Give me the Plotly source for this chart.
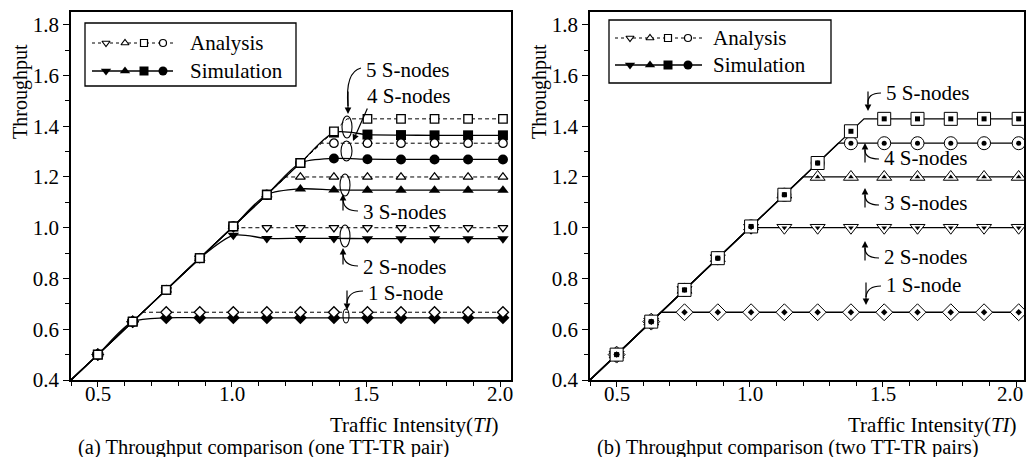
import plotly.graph_objects as go

# ---------------- data ----------------
TI = [0.50, 0.63, 0.755, 0.88, 1.005, 1.13, 1.255, 1.38, 1.505, 1.63, 1.755, 1.88, 2.01]
TI_START = 0.4
NODES = ["1 S-node", "2 S-nodes", "3 S-nodes", "4 S-nodes", "5 S-nodes"]
KNEE = [0.667, 1.0, 1.2, 1.333, 1.429]          # analytic saturation throughput

ANA_1 = [0.50, 0.63, 0.667, 0.667, 0.667, 0.667, 0.667, 0.667, 0.667, 0.667, 0.667, 0.667, 0.667]
ANA_2 = [0.50, 0.63, 0.755, 0.88, 1.0, 1.0, 1.0, 1.0, 1.0, 1.0, 1.0, 1.0, 1.0]
ANA_3 = [0.50, 0.63, 0.755, 0.88, 1.005, 1.13, 1.2, 1.2, 1.2, 1.2, 1.2, 1.2, 1.2]
ANA_4 = [0.50, 0.63, 0.755, 0.88, 1.005, 1.13, 1.255, 1.333, 1.333, 1.333, 1.333, 1.333, 1.333]
ANA_5 = [0.50, 0.63, 0.755, 0.88, 1.005, 1.13, 1.255, 1.38, 1.429, 1.429, 1.429, 1.429, 1.429]

# (a) one TT-TR pair, simulation
SIM_A1 = [0.50, 0.63, 0.645, 0.645, 0.645, 0.645, 0.645, 0.645, 0.645, 0.645, 0.645, 0.645, 0.645]
SIM_A2 = [0.50, 0.63, 0.755, 0.88, 0.97, 0.958, 0.958, 0.958, 0.957, 0.957, 0.957, 0.957, 0.957]
SIM_A3 = [0.50, 0.63, 0.755, 0.88, 1.005, 1.13, 1.153, 1.149, 1.148, 1.148, 1.148, 1.148, 1.148]
SIM_A4 = [0.50, 0.63, 0.755, 0.88, 1.005, 1.13, 1.255, 1.273, 1.27, 1.269, 1.269, 1.269, 1.269]
SIM_A5 = [0.50, 0.63, 0.755, 0.88, 1.005, 1.13, 1.255, 1.375, 1.367, 1.365, 1.364, 1.364, 1.364]

# (b) two TT-TR pairs, simulation
SIM_B1 = [0.50, 0.63, 0.667, 0.667, 0.667, 0.667, 0.667, 0.667, 0.667, 0.667, 0.667, 0.667, 0.667]
SIM_B2 = [0.50, 0.63, 0.755, 0.88, 1.0, 1.0, 1.0, 1.0, 1.0, 1.0, 1.0, 1.0, 1.0]
SIM_B3 = [0.50, 0.63, 0.755, 0.88, 1.005, 1.13, 1.2, 1.2, 1.2, 1.2, 1.2, 1.2, 1.2]
SIM_B4 = [0.50, 0.63, 0.755, 0.88, 1.005, 1.13, 1.255, 1.333, 1.333, 1.333, 1.333, 1.333, 1.333]
SIM_B5 = [0.50, 0.63, 0.755, 0.88, 1.005, 1.13, 1.255, 1.38, 1.429, 1.429, 1.429, 1.429, 1.429]

ANA = [ANA_1, ANA_2, ANA_3, ANA_4, ANA_5]
SIM_A = [SIM_A1, SIM_A2, SIM_A3, SIM_A4, SIM_A5]
SIM_B = [SIM_B1, SIM_B2, SIM_B3, SIM_B4, SIM_B5]
SYMBOLS = ["diamond", "triangle-down", "triangle-up", "circle", "square"]

X_TICKS = [0.5, 1.0, 1.5, 2.0]
Y_TICKS = [0.4, 0.6, 0.8, 1.0, 1.2, 1.4, 1.6, 1.8]

# ---------------- styling ----------------
FONT = "Liberation Serif, Times New Roman, serif"
FS = 21
OFF = 8                      # page body margin of the html page
W, H = 1018, 449             # stays inside the visible page area
BLACK = "black"


def dx(px):      # window pixel -> paper fraction (x)
    return (px - OFF) / W


def dy(py):      # window pixel -> paper fraction (y)
    return 1 - (py - OFF) / H


fig = go.Figure()


def ana_path(vals, knee):
    xs = [TI_START] + [t for t in TI if t < knee] + [knee] + [t for t in TI if t > knee]
    ys = [TI_START] + [v for t, v in zip(TI, vals) if t < knee] + [knee] + [v for t, v in zip(TI, vals) if t > knee]
    return xs, ys


# ---- panel (a)
for i in range(5):
    fig.add_trace(go.Scatter(x=[TI_START] + TI, y=[TI_START] + SIM_A[i], mode="lines",
                             line=dict(color=BLACK, width=1.3, shape="spline", smoothing=0.8),
                             xaxis="x", yaxis="y", hoverinfo="skip"))
for i in range(5):
    xs, ys = ana_path(ANA[i], KNEE[i])
    fig.add_trace(go.Scatter(x=xs, y=ys, mode="lines",
                             line=dict(color=BLACK, width=1, dash="4px,3px"),
                             xaxis="x", yaxis="y", hoverinfo="skip"))
for i in range(5):
    fig.add_trace(go.Scatter(x=TI, y=SIM_A[i], mode="markers", name="Simulation " + NODES[i],
                             marker=dict(symbol=SYMBOLS[i], size=10, color=BLACK, line=dict(width=0)),
                             cliponaxis=False, xaxis="x", yaxis="y"))
for i in range(5):
    fig.add_trace(go.Scatter(x=TI, y=ANA[i], mode="markers", name="Analysis " + NODES[i],
                             marker=dict(symbol=SYMBOLS[i], size=8.5, color="white",
                                         line=dict(width=1.3, color=BLACK)),
                             cliponaxis=False, xaxis="x", yaxis="y"))

# ---- panel (b)
for i in range(5):
    xs, ys = ana_path(ANA[i], KNEE[i])
    fig.add_trace(go.Scatter(x=xs, y=ys, mode="lines", line=dict(color=BLACK, width=1.3),
                             xaxis="x2", yaxis="y2", hoverinfo="skip"))
for i in range(5):
    fig.add_trace(go.Scatter(x=TI, y=ANA[i], mode="markers", name="Analysis " + NODES[i],
                             marker=dict(symbol=SYMBOLS[i], size=13, color="white",
                                         line=dict(width=1, color=BLACK)),
                             cliponaxis=False, xaxis="x2", yaxis="y2"))
for i in range(5):
    fig.add_trace(go.Scatter(x=TI, y=SIM_B[i], mode="markers", name="Simulation " + NODES[i],
                             marker=dict(symbol=SYMBOLS[i], size=5, color=BLACK, line=dict(width=0)),
                             cliponaxis=False, xaxis="x2", yaxis="y2"))

# ---------------- pixel overlay (window pixels) for legend / callouts ----------------
shapes = []
annotations = []
LEG_SYMS = ["triangle-down", "triangle-up", "square", "circle"]


def text(x, y, s, xanchor="left", angle=0, size=FS):
    annotations.append(dict(xref="x3", yref="y3", x=x, y=y, text=s, showarrow=False, textangle=angle,
                            xanchor=xanchor, yanchor="middle", font=dict(family=FONT, size=size, color=BLACK)))


def legend(box, xl0, xl1, ry1, ry2, mx, tx):
    shapes.append(dict(type="rect", xref="x3", yref="y3", x0=box[0], y0=box[1], x1=box[2], y1=box[3],
                       line=dict(color=BLACK, width=1.3), fillcolor="rgba(0,0,0,0)", layer="above"))
    fig.add_trace(go.Scatter(x=[xl0, xl1], y=[ry1, ry1], mode="lines",
                             line=dict(color=BLACK, width=1, dash="dot"), xaxis="x3", yaxis="y3", hoverinfo="skip"))
    fig.add_trace(go.Scatter(x=[xl0, xl1], y=[ry2, ry2], mode="lines",
                             line=dict(color=BLACK, width=1.3), xaxis="x3", yaxis="y3", hoverinfo="skip"))
    fig.add_trace(go.Scatter(x=mx, y=[ry1] * 4, mode="markers",
                             marker=dict(symbol=LEG_SYMS, size=7, color="white", line=dict(width=1.2, color=BLACK)),
                             xaxis="x3", yaxis="y3", hoverinfo="skip"))
    fig.add_trace(go.Scatter(x=mx, y=[ry2] * 4, mode="markers",
                             marker=dict(symbol=LEG_SYMS, size=9, color=BLACK, line=dict(width=0)),
                             xaxis="x3", yaxis="y3", hoverinfo="skip"))
    text(tx, ry1, "Analysis")
    text(tx, ry2, "Simulation")


legend((85, 23, 296, 86), 92, 173, 43, 71, [106, 125, 144, 163], 188)
legend((609, 20, 831, 83), 615, 702, 38, 65, [630, 650, 668, 688], 711)


def arrowhead(tip, ax, ay):
    annotations.append(dict(xref="x3", yref="y3", x=tip[0], y=tip[1], text="", showarrow=True,
                            ax=ax, ay=ay, arrowhead=2, arrowsize=1.1, arrowwidth=1.2,
                            arrowcolor=BLACK, standoff=0))


def callout(label, tx, ty, start, ctrl, end, tip):
    text(tx, ty, label)
    shapes.append(dict(type="path", xref="x3", yref="y3",
                       path=f"M {start[0]} {start[1]} Q {ctrl[0]} {ctrl[1]} {end[0]} {end[1]}",
                       line=dict(color=BLACK, width=1.2), layer="above"))
    arrowhead(tip, end[0] - tip[0], (end[1] - tip[1]) * 3)


# panel (a)
callout("5 S-nodes", 364, 70, (361, 68), (345, 72), (348, 106), (348, 114))
callout("3 S-nodes", 361, 212, (358, 211), (344, 211), (343, 200), (343, 194))
callout("2 S-nodes", 361, 267, (358, 266), (344, 266), (343, 254), (343, 248))
callout("1 S-node", 366, 293, (363, 291), (348, 291), (347, 303), (347, 310))
text(365, 96, "4 S-nodes")
arrowhead((353, 141), 15, -34)
for (x0, y0, x1, y1) in [(342, 116, 352, 138), (341, 141, 352, 161), (340, 174, 350, 196),
                         (340, 225, 350, 247), (343, 309, 349, 323)]:
    shapes.append(dict(type="circle", xref="x3", yref="y3", x0=x0, y0=y0, x1=x1, y1=y1,
                       line=dict(color=BLACK, width=1.1), layer="above"))

# panel (b)
callout("5 S-nodes", 884, 93, (881, 93), (867, 93), (868, 104), (868, 111))
callout("4 S-nodes", 882, 158, (879, 159), (865, 159), (865, 150), (865, 143))
callout("3 S-nodes", 882, 203, (879, 205), (865, 205), (865, 195), (865, 188))
callout("2 S-nodes", 882, 257, (879, 258), (865, 258), (865, 248), (865, 241))
callout("1 S-node", 884, 285, (881, 286), (867, 286), (866, 297), (866, 305))

# x tick labels (drawn at the axis tick values)
for axis, shift_last in (("x", 0), ("x2", -6)):
    for v in X_TICKS:
        annotations.append(dict(xref=axis, yref="y3", x=v, y=394, text=f"{v:.1f}", showarrow=False,
                                xanchor="center", yanchor="middle", xshift=shift_last if v == X_TICKS[-1] else 0,
                                font=dict(family=FONT, size=FS, color=BLACK)))

# axis titles and captions
for x in (20, 539):
    text(x, 92, "Throughput", xanchor="center", angle=-90, size=20)
for x in (501, 1019):
    text(x, 425, "Traffic Intensity(<i>TI</i>)", xanchor="right")
text(263, 447, "(a) Throughput comparison (one TT-TR pair)", xanchor="center", size=20.5)
text(788, 447, "(b) Throughput comparison (two TT-TR pairs)", xanchor="center", size=20.5)

# ---------------- axes ----------------
PLOT_TOP, PLOT_BOTTOM = 12, 380


def xax(x0px, x1px, rng, anchor):
    return dict(domain=[dx(x0px), dx(x1px)], range=rng, anchor=anchor, tickvals=X_TICKS,
                showticklabels=False,
                ticks="outside", ticklen=5, tickwidth=1.2, tickcolor=BLACK, showline=True, linecolor=BLACK,
                linewidth=1.5, mirror=True, showgrid=False, zeroline=False,
                minor=dict(dtick=0.1, tick0=0.4, ticks="outside", ticklen=4, tickwidth=1.1, tickcolor=BLACK,
                           showgrid=False))


def yax(rng, anchor):
    return dict(domain=[dy(PLOT_BOTTOM), dy(PLOT_TOP)], range=rng, anchor=anchor, tickvals=Y_TICKS,
                ticktext=[f"{v:.1f}" for v in Y_TICKS], ticklabeloverflow="allow",
                ticks="outside", ticklen=6, tickwidth=1.2, tickcolor=BLACK, showline=True, linecolor=BLACK,
                linewidth=1.5, mirror=True, showgrid=False, zeroline=False,
                minor=dict(dtick=0.1, tick0=0.4, ticks="outside", ticklen=4, tickwidth=1.1, tickcolor=BLACK,
                           showgrid=False),
                tickfont=dict(family=FONT, size=FS, color=BLACK))


fig.update_layout(
    width=W, height=H, margin=dict(l=0, r=0, t=0, b=0, autoexpand=False),
    paper_bgcolor="white", plot_bgcolor="rgba(0,0,0,0)", showlegend=False,
    xaxis=xax(71, 511, [0.4, 2.04], "y"),
    yaxis=yax([0.4, 1.85], "x"),
    xaxis2=xax(590, 1024, [0.4, 2.03], "y2"),
    yaxis2=yax([0.4, 1.85], "x2"),
    xaxis3=dict(domain=[0, 1], range=[OFF, OFF + W], visible=False, anchor="y3", fixedrange=True),
    yaxis3=dict(domain=[0, 1], range=[OFF + H, OFF], visible=False, anchor="x3", fixedrange=True),
    shapes=shapes, annotations=annotations,
)

fig.write_html("out.html")
